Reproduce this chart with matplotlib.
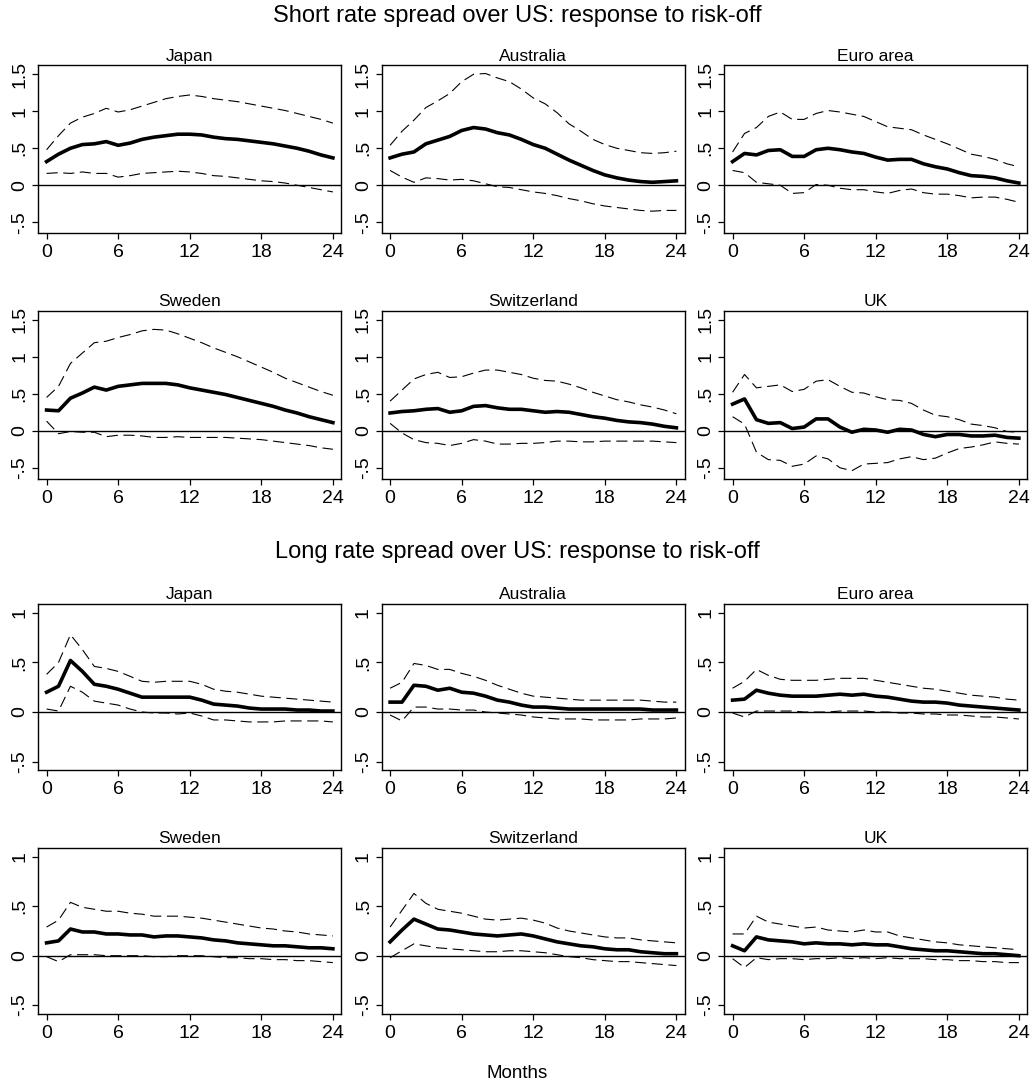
import matplotlib
matplotlib.use("Agg")
import matplotlib.pyplot as plt
import numpy as np

plt.rcParams['font.family'] = ['Liberation Sans', 'DejaVu Sans']

months = list(range(25))
countries = ["Japan", "Australia", "Euro area", "Sweden", "Switzerland", "UK"]

# ---------- Short rate spread ----------
short_japan_mid = [0.32, 0.42, 0.50, 0.55, 0.56, 0.59, 0.54, 0.57, 0.62, 0.65, 0.67, 0.69, 0.69, 0.68, 0.65, 0.63, 0.62, 0.60, 0.58, 0.56, 0.53, 0.50, 0.46, 0.41, 0.37]
short_japan_hi = [0.48, 0.67, 0.84, 0.92, 0.97, 1.04, 0.99, 1.02, 1.07, 1.12, 1.17, 1.20, 1.22, 1.20, 1.17, 1.15, 1.13, 1.10, 1.07, 1.04, 1.01, 0.97, 0.93, 0.89, 0.84]
short_japan_lo = [0.16, 0.17, 0.16, 0.18, 0.16, 0.16, 0.11, 0.13, 0.16, 0.17, 0.18, 0.19, 0.18, 0.16, 0.13, 0.12, 0.10, 0.08, 0.06, 0.05, 0.03, 0.00, -0.03, -0.06, -0.09]

short_australia_mid = [0.37, 0.42, 0.45, 0.56, 0.61, 0.66, 0.74, 0.78, 0.76, 0.71, 0.68, 0.62, 0.55, 0.50, 0.42, 0.34, 0.27, 0.20, 0.14, 0.10, 0.07, 0.05, 0.04, 0.05, 0.06]
short_australia_hi = [0.54, 0.73, 0.88, 1.05, 1.14, 1.24, 1.40, 1.50, 1.51, 1.45, 1.40, 1.30, 1.18, 1.10, 0.98, 0.83, 0.73, 0.62, 0.55, 0.50, 0.47, 0.44, 0.43, 0.44, 0.46]
short_australia_lo = [0.20, 0.11, 0.04, 0.10, 0.09, 0.07, 0.08, 0.06, 0.02, -0.02, -0.03, -0.06, -0.09, -0.11, -0.14, -0.18, -0.21, -0.25, -0.28, -0.30, -0.32, -0.34, -0.35, -0.34, -0.34]

short_euro_mid = [0.32, 0.43, 0.41, 0.47, 0.48, 0.39, 0.39, 0.48, 0.50, 0.48, 0.45, 0.43, 0.38, 0.34, 0.35, 0.35, 0.29, 0.25, 0.22, 0.17, 0.13, 0.12, 0.10, 0.06, 0.03]
short_euro_hi = [0.45, 0.70, 0.78, 0.93, 0.99, 0.89, 0.89, 0.97, 1.01, 0.99, 0.96, 0.93, 0.86, 0.79, 0.77, 0.75, 0.68, 0.62, 0.56, 0.49, 0.42, 0.39, 0.35, 0.29, 0.25]
short_euro_lo = [0.20, 0.17, 0.04, 0.02, 0.00, -0.11, -0.10, 0.01, 0.00, -0.04, -0.06, -0.06, -0.09, -0.11, -0.07, -0.05, -0.10, -0.12, -0.12, -0.14, -0.17, -0.16, -0.16, -0.19, -0.23]

short_sweden_mid = [0.28, 0.27, 0.44, 0.51, 0.59, 0.55, 0.60, 0.62, 0.64, 0.64, 0.64, 0.62, 0.58, 0.55, 0.52, 0.49, 0.45, 0.41, 0.37, 0.33, 0.28, 0.24, 0.19, 0.15, 0.11]
short_sweden_hi = [0.45, 0.60, 0.91, 1.05, 1.19, 1.21, 1.26, 1.30, 1.35, 1.37, 1.36, 1.31, 1.25, 1.19, 1.12, 1.06, 1.00, 0.93, 0.86, 0.79, 0.71, 0.65, 0.59, 0.53, 0.48]
short_sweden_lo = [0.13, -0.04, -0.01, -0.02, -0.02, -0.08, -0.06, -0.06, -0.07, -0.09, -0.09, -0.08, -0.09, -0.09, -0.09, -0.09, -0.10, -0.11, -0.12, -0.14, -0.16, -0.18, -0.20, -0.23, -0.25]

short_swiss_mid = [0.24, 0.26, 0.27, 0.29, 0.30, 0.25, 0.27, 0.33, 0.34, 0.31, 0.29, 0.29, 0.27, 0.25, 0.26, 0.25, 0.22, 0.19, 0.17, 0.14, 0.12, 0.11, 0.09, 0.06, 0.04]
short_swiss_hi = [0.40, 0.55, 0.70, 0.76, 0.79, 0.72, 0.73, 0.78, 0.82, 0.82, 0.79, 0.76, 0.71, 0.68, 0.67, 0.63, 0.58, 0.52, 0.47, 0.42, 0.39, 0.35, 0.32, 0.28, 0.23]
short_swiss_lo = [0.10, -0.03, -0.12, -0.16, -0.17, -0.20, -0.17, -0.12, -0.14, -0.18, -0.18, -0.17, -0.17, -0.16, -0.14, -0.14, -0.15, -0.15, -0.14, -0.14, -0.14, -0.14, -0.14, -0.15, -0.16]

short_uk_mid = [0.36, 0.43, 0.15, 0.10, 0.11, 0.03, 0.05, 0.16, 0.16, 0.05, -0.02, 0.02, 0.01, -0.02, 0.02, 0.01, -0.05, -0.08, -0.05, -0.05, -0.07, -0.07, -0.06, -0.09, -0.10]
short_uk_hi = [0.52, 0.76, 0.58, 0.60, 0.62, 0.53, 0.56, 0.67, 0.69, 0.60, 0.52, 0.51, 0.46, 0.42, 0.41, 0.37, 0.28, 0.21, 0.19, 0.15, 0.09, 0.07, 0.04, -0.01, -0.02]
short_uk_lo = [0.19, 0.09, -0.29, -0.39, -0.40, -0.48, -0.45, -0.34, -0.38, -0.50, -0.54, -0.45, -0.44, -0.43, -0.38, -0.35, -0.39, -0.37, -0.30, -0.24, -0.22, -0.19, -0.15, -0.17, -0.18]

# ---------- Long rate spread ----------
long_japan_mid = [0.20, 0.26, 0.52, 0.41, 0.28, 0.26, 0.23, 0.19, 0.15, 0.15, 0.15, 0.15, 0.15, 0.12, 0.08, 0.07, 0.06, 0.04, 0.03, 0.03, 0.03, 0.02, 0.02, 0.01, 0.01]
long_japan_hi = [0.38, 0.50, 0.78, 0.63, 0.46, 0.44, 0.41, 0.36, 0.31, 0.30, 0.31, 0.31, 0.31, 0.28, 0.23, 0.21, 0.20, 0.18, 0.16, 0.15, 0.14, 0.13, 0.12, 0.11, 0.10]
long_japan_lo = [0.03, 0.01, 0.26, 0.20, 0.11, 0.09, 0.07, 0.03, 0.00, -0.01, -0.01, -0.02, -0.01, -0.04, -0.08, -0.08, -0.09, -0.10, -0.10, -0.10, -0.09, -0.09, -0.09, -0.09, -0.10]

long_australia_mid = [0.10, 0.10, 0.27, 0.26, 0.22, 0.24, 0.20, 0.19, 0.16, 0.12, 0.10, 0.07, 0.05, 0.05, 0.04, 0.03, 0.03, 0.03, 0.03, 0.03, 0.03, 0.03, 0.02, 0.02, 0.02]
long_australia_hi = [0.24, 0.30, 0.49, 0.47, 0.43, 0.43, 0.39, 0.36, 0.32, 0.27, 0.23, 0.19, 0.16, 0.15, 0.14, 0.13, 0.12, 0.12, 0.12, 0.12, 0.12, 0.12, 0.11, 0.10, 0.10]
long_australia_lo = [-0.03, -0.09, 0.05, 0.05, 0.03, 0.03, 0.02, 0.02, 0.00, -0.01, -0.02, -0.03, -0.05, -0.06, -0.07, -0.07, -0.07, -0.08, -0.08, -0.08, -0.08, -0.07, -0.07, -0.07, -0.06]

long_euro_mid = [0.12, 0.13, 0.22, 0.19, 0.17, 0.16, 0.16, 0.16, 0.17, 0.18, 0.17, 0.18, 0.16, 0.15, 0.13, 0.11, 0.10, 0.10, 0.09, 0.07, 0.06, 0.05, 0.04, 0.03, 0.02]
long_euro_hi = [0.24, 0.31, 0.43, 0.37, 0.33, 0.32, 0.32, 0.32, 0.33, 0.34, 0.34, 0.34, 0.32, 0.30, 0.28, 0.26, 0.24, 0.23, 0.21, 0.19, 0.17, 0.16, 0.15, 0.13, 0.12]
long_euro_lo = [-0.01, -0.05, 0.01, 0.01, 0.01, 0.01, 0.00, 0.00, 0.00, 0.01, 0.01, 0.01, 0.00, 0.00, -0.01, -0.01, -0.02, -0.02, -0.03, -0.03, -0.04, -0.05, -0.05, -0.06, -0.07]

long_sweden_mid = [0.13, 0.15, 0.27, 0.24, 0.24, 0.22, 0.22, 0.21, 0.21, 0.19, 0.20, 0.20, 0.19, 0.18, 0.16, 0.15, 0.13, 0.12, 0.11, 0.10, 0.10, 0.09, 0.08, 0.08, 0.07]
long_sweden_hi = [0.29, 0.36, 0.54, 0.49, 0.47, 0.45, 0.45, 0.43, 0.42, 0.40, 0.40, 0.40, 0.39, 0.38, 0.36, 0.34, 0.32, 0.30, 0.28, 0.27, 0.25, 0.24, 0.22, 0.21, 0.20]
long_sweden_lo = [-0.01, -0.06, 0.01, 0.01, 0.01, 0.00, 0.00, 0.00, 0.00, -0.01, -0.01, 0.00, 0.00, 0.00, -0.01, -0.02, -0.02, -0.03, -0.03, -0.04, -0.04, -0.05, -0.05, -0.06, -0.07]

long_swiss_mid = [0.14, 0.26, 0.37, 0.32, 0.27, 0.26, 0.24, 0.22, 0.21, 0.20, 0.21, 0.22, 0.20, 0.17, 0.14, 0.12, 0.10, 0.09, 0.07, 0.06, 0.06, 0.04, 0.03, 0.02, 0.02]
long_swiss_hi = [0.29, 0.46, 0.63, 0.53, 0.47, 0.45, 0.43, 0.40, 0.37, 0.36, 0.37, 0.38, 0.36, 0.33, 0.28, 0.25, 0.23, 0.21, 0.19, 0.18, 0.18, 0.16, 0.15, 0.14, 0.13]
long_swiss_lo = [-0.02, 0.05, 0.12, 0.10, 0.08, 0.07, 0.06, 0.05, 0.04, 0.04, 0.05, 0.05, 0.04, 0.03, 0.01, -0.01, -0.02, -0.04, -0.05, -0.06, -0.06, -0.07, -0.08, -0.09, -0.10]

long_uk_mid = [0.10, 0.05, 0.19, 0.16, 0.15, 0.14, 0.12, 0.13, 0.12, 0.12, 0.11, 0.12, 0.11, 0.11, 0.09, 0.07, 0.06, 0.05, 0.05, 0.04, 0.03, 0.02, 0.02, 0.01, 0.00]
long_uk_hi = [0.22, 0.22, 0.40, 0.34, 0.32, 0.30, 0.28, 0.29, 0.26, 0.25, 0.24, 0.26, 0.24, 0.24, 0.20, 0.18, 0.16, 0.14, 0.13, 0.11, 0.10, 0.09, 0.08, 0.07, 0.06]
long_uk_lo = [-0.03, -0.12, -0.02, -0.04, -0.03, -0.03, -0.04, -0.03, -0.03, -0.02, -0.03, -0.02, -0.03, -0.02, -0.03, -0.03, -0.03, -0.04, -0.04, -0.05, -0.05, -0.06, -0.06, -0.07, -0.07]

short_sets = [
    (short_japan_mid, short_japan_hi, short_japan_lo),
    (short_australia_mid, short_australia_hi, short_australia_lo),
    (short_euro_mid, short_euro_hi, short_euro_lo),
    (short_sweden_mid, short_sweden_hi, short_sweden_lo),
    (short_swiss_mid, short_swiss_hi, short_swiss_lo),
    (short_uk_mid, short_uk_hi, short_uk_lo),
]
long_sets = [
    (long_japan_mid, long_japan_hi, long_japan_lo),
    (long_australia_mid, long_australia_hi, long_australia_lo),
    (long_euro_mid, long_euro_hi, long_euro_lo),
    (long_sweden_mid, long_sweden_hi, long_sweden_lo),
    (long_swiss_mid, long_swiss_hi, long_swiss_lo),
    (long_uk_mid, long_uk_hi, long_uk_lo),
]

x_ticks = [0, 6, 12, 18, 24]
short_yticks = [-0.5, 0, 0.5, 1, 1.5]
short_ylabels = ["-.5", "0", ".5", "1", "1.5"]
long_yticks = [-0.5, 0, 0.5, 1]
long_ylabels = ["-.5", "0", ".5", "1"]

W, H = 1034, 1088
fig = plt.figure(figsize=(W / 100, H / 100), dpi=100)

col_left = [38, 381.5, 724]
col_w = 303
row_tops = [65, 310.5, 603.5, 847.5]
row_bottoms = [233, 478.5, 770, 1013.5]

def make_ax(col, row):
    l = col_left[col]
    t = row_tops[row]
    b = row_bottoms[row]
    return fig.add_axes([l / W, 1 - b / H, col_w / W, (b - t) / H])

def draw(ax, data, title, yticks, ylabels, ylim):
    mid, hi, lo = data
    ax.axhline(0, color="black", lw=1.0, zorder=1)
    ax.plot(months, hi, color="black", lw=0.8, dashes=(10, 5))
    ax.plot(months, lo, color="black", lw=0.8, dashes=(10, 5))
    ax.plot(months, mid, color="black", lw=2.6, solid_joinstyle="round")
    ax.set_xlim(-0.72, 24.68)
    ax.set_ylim(*ylim)
    ax.set_xticks(x_ticks)
    ax.set_xticklabels([str(v) for v in x_ticks])
    ax.set_yticks(yticks)
    ax.set_yticklabels(ylabels, rotation=90, va="center")
    ax.tick_params(direction="out", length=4, width=0.9, labelsize=14, pad=3, colors="black")
    ax.tick_params(axis="x", pad=4)
    for sp in ax.spines.values():
        sp.set_linewidth(1.0)
        sp.set_color("black")
    ax.set_title(title, fontsize=12.5, pad=3)

for i, c in enumerate(countries):
    col = i % 3
    row = i // 3
    ax = make_ax(col, row)
    draw(ax, short_sets[i], c, short_yticks, short_ylabels, (-0.645, 1.625))
for i, c in enumerate(countries):
    col = i % 3
    row = 2 + i // 3
    ax = make_ax(col, row)
    draw(ax, long_sets[i], c, long_yticks, long_ylabels, (-0.585, 1.095))

fig.text(0.5, 1 - 16 / H, "Short rate spread over US: response to risk-off", ha="center", va="center", fontsize=17)
fig.text(0.5, 1 - 552 / H, "Long rate spread over US: response to risk-off", ha="center", va="center", fontsize=17)
fig.text(0.5, 1 - 1074 / H, "Months", ha="center", va="center", fontsize=13.5)

fig.savefig("out.png", dpi=100, facecolor="white")
